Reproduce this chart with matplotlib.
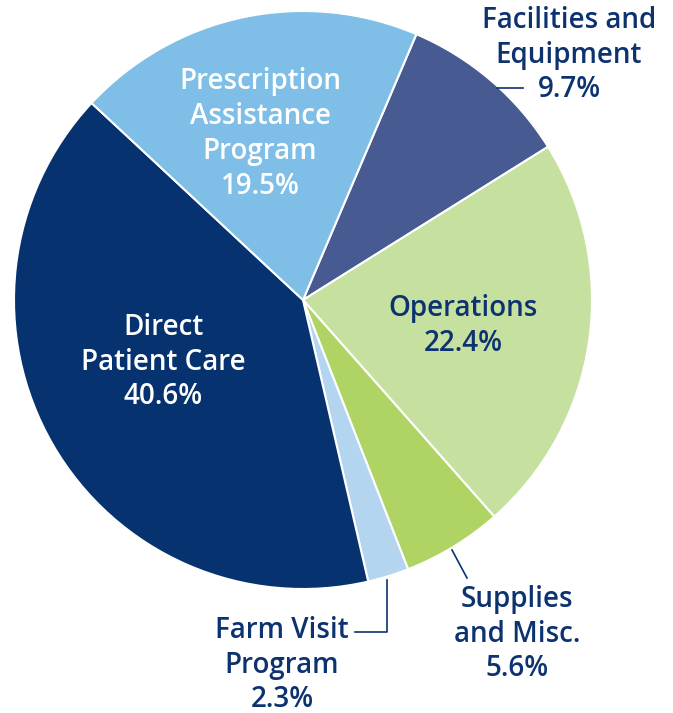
import matplotlib.pyplot as plt

labels = ['Facilities and\nEquipment', 'Operations', 'Supplies\nand Misc.',
          'Farm Visit\nProgram', 'Direct\nPatient Care', 'Prescription\nAssistance\nProgram']
values = [9.7, 22.4, 5.6, 2.3, 40.6, 19.5]
colors = ['#475a92', '#c6e0a0', '#b0d464', '#b3d5ef', '#06326f', '#7fbee6']

W, H = 673, 713
navy = '#0c3270'

fig = plt.figure(figsize=(W / 100, H / 100), dpi=100)
ax = fig.add_axes([0, 0, 1, 1])

cx, cy, r = 303, H - 300, 289
ax.pie(values, colors=colors, startangle=66.9, counterclock=False,
       center=(cx, cy), radius=r, frame=True,
       wedgeprops=dict(edgecolor='white', linewidth=1.5))
ax.set_xlim(0, W)
ax.set_ylim(0, H)
ax.set_aspect('equal')
ax.axis('off')

font = dict(family='Open Sans', fontweight='semibold', fontsize=20,
            ha='center', va='center', linespacing=1.27)

def put(x, y, s, color=navy):
    ax.text(x, H - y, s, color=color, **font)

pct = [f'{v}%' for v in values]
put(569, 55, labels[0] + '\n' + pct[0])
put(463, 326, labels[1] + '\n' + pct[1])
put(517, 634, labels[2] + '\n' + pct[2])
put(282, 665, labels[3] + '\n' + pct[3])
put(163, 362, labels[4] + '\n' + pct[4], 'white')
put(260, 134, labels[5] + '\n' + pct[5], 'white')

# leader lines
ax.plot([497, 523], [H - 88, H - 88], color=navy, lw=1.2)
ax.plot([452, 467], [H - 550, H - 578], color=navy, lw=1.2)
ax.plot([387, 387, 355], [H - 580, H - 632, H - 632], color=navy, lw=1.2)

fig.savefig('out.png', dpi=100)
